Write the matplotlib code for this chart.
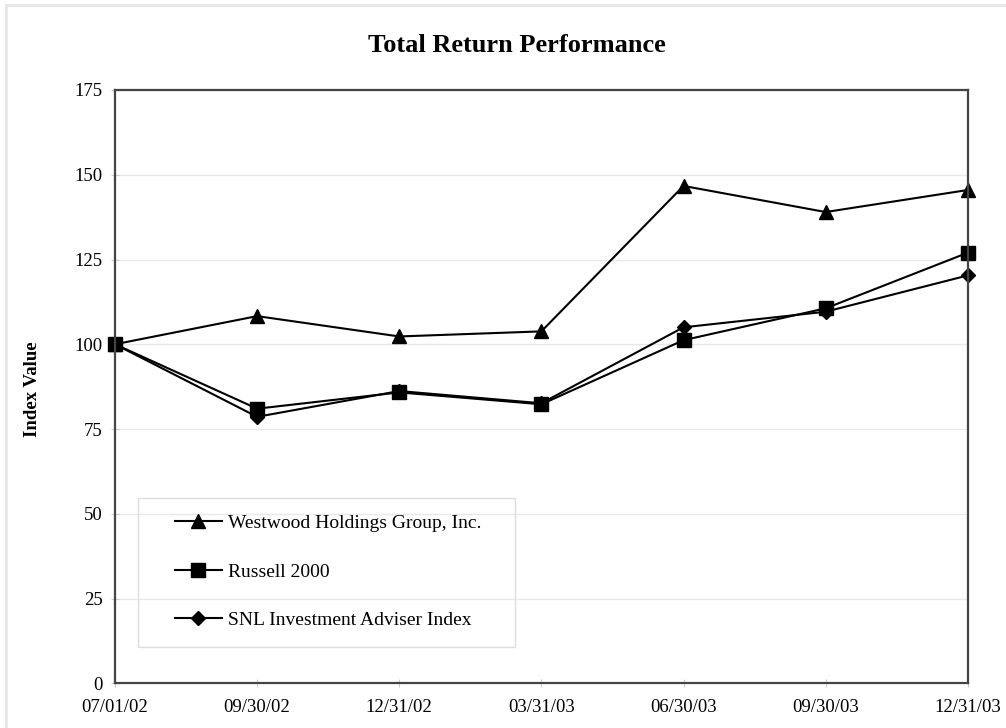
import matplotlib
matplotlib.use("Agg")
import matplotlib.pyplot as plt
from matplotlib.patches import Rectangle

plt.rcParams['font.family'] = ['Liberation Serif', 'DejaVu Serif']

dates = ["07/01/02", "09/30/02", "12/31/02", "03/31/03", "06/30/03", "09/30/03", "12/31/03"]
westwood = [100.0, 108.3, 102.3, 103.8, 146.7, 139.0, 145.5]
russell = [100.0, 81.0, 85.8, 82.3, 101.2, 110.6, 127.0]
snl = [100.0, 78.6, 86.2, 82.6, 105.0, 109.6, 120.3]
y_ticks = [0, 25, 50, 75, 100, 125, 150, 175]

fig = plt.figure(figsize=(10.06, 7.28), dpi=100)
ax = fig.add_axes([0.1143, 0.0614, 0.8477, 0.815])

# светло-серая рамка вокруг всей картинки
fig.patches.append(Rectangle((6 / 1006, -0.1), 1.2, 1.1 - 5 / 728, transform=fig.transFigure,
                             fill=False, edgecolor='#e6e6e6', linewidth=2))

x = list(range(len(dates)))
ax.plot(x, westwood, color='black', lw=1.5, marker='^', markersize=10.5, clip_on=False,
        label="Westwood Holdings Group, Inc.")
ax.plot(x, russell, color='black', lw=1.5, marker='s', markersize=10, clip_on=False,
        label="Russell 2000")
ax.plot(x, snl, color='black', lw=1.5, marker='D', markersize=7.5, clip_on=False,
        label="SNL Investment Adviser Index")

ax.set_xlim(0, len(dates) - 1)
ax.set_ylim(0, 175)
ax.set_yticks(y_ticks)
ax.set_xticks(x)
ax.set_xticklabels(dates)
ax.yaxis.grid(True, color='#e8e8e8', linewidth=1)
ax.set_axisbelow(True)
ax.tick_params(axis='both', labelsize=13.5, colors='#cccccc', labelcolor='black', direction='inout', length=6)
ax.tick_params(axis='x', pad=8)
ax.tick_params(axis='y', pad=6)
for sp in ax.spines.values():
    sp.set_color('#444444')
    sp.set_linewidth(1.6)

fig.text(0.5135, 0.938, "Total Return Performance", ha='center', va='center', fontsize=19, fontweight='bold')
fig.text(0.032, 0.465, "Index Value", ha='center', va='center', rotation=90, fontsize=13.5, fontweight='bold')

# рамка легенды отдельно
ax.add_patch(Rectangle((0.027, 0.061), 0.442, 0.251, transform=ax.transAxes,
                       fill=False, edgecolor='#dddddd', linewidth=1))
ax.legend(loc='upper left', bbox_to_anchor=(0.0704, 0.285), frameon=False, fontsize=14,
          borderpad=0, borderaxespad=0, handlelength=2.4, handletextpad=0.3, labelspacing=1.6)

fig.savefig("out.png", dpi=100)
